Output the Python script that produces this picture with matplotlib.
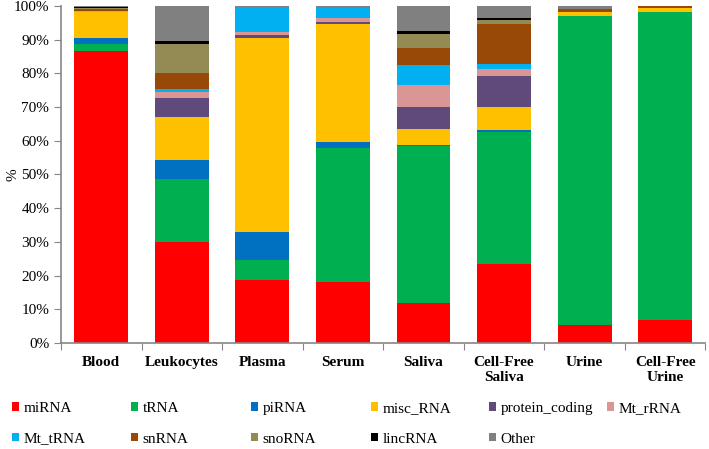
import numpy as np
import matplotlib.pyplot as plt
from matplotlib.patches import Patch

samples = ['Blood', 'Leukocytes', 'Plasma', 'Serum', 'Saliva',
           'Cell-Free\nSaliva', 'Urine', 'Cell-Free\nUrine']
rna_types = ['miRNA', 'tRNA', 'piRNA', 'misc_RNA', 'protein_coding', 'Mt_rRNA',
             'Mt_tRNA', 'snRNA', 'snoRNA', 'lincRNA', 'Other']
colors = ['#FF0000', '#00B050', '#0070C0', '#FFC000', '#604A7B', '#D99694',
          '#00B0F0', '#984807', '#948A54', '#000000', '#808080']

# percentage of reads per RNA type, one list per sample
blood = [86.5, 2.2, 1.9, 7.5, 0.2, 0.1, 0.1, 0.7, 0.3, 0.1, 0.4]
leukocytes = [30.0, 18.5, 5.7, 12.7, 5.7, 1.7, 1.0, 4.8, 8.6, 0.8, 10.5]
plasma = [18.8, 5.9, 8.1, 57.8, 0.8, 0.7, 7.5, 0.0, 0.0, 0.0, 0.4]
serum = [18.2, 39.6, 1.8, 35.1, 0.6, 1.0, 3.0, 0.0, 0.0, 0.0, 0.7]
saliva = [12.0, 46.3, 0.5, 4.6, 6.5, 6.7, 5.9, 5.1, 4.0, 0.8, 7.6]
cf_saliva = [23.5, 39.2, 0.4, 7.0, 9.1, 2.1, 1.5, 11.7, 1.3, 0.7, 3.5]
urine = [5.3, 91.6, 0.0, 1.3, 0.0, 0.0, 0.0, 0.8, 0.2, 0.0, 0.8]
cf_urine = [6.8, 91.5, 0.0, 1.1, 0.0, 0.0, 0.0, 0.6, 0.0, 0.0, 0.0]

data = np.array([blood, leukocytes, plasma, serum, saliva,
                 cf_saliva, urine, cf_urine]).T

plt.rcParams['font.family'] = ['Liberation Serif', 'DejaVu Serif']

fig = plt.figure(figsize=(7.09, 4.49), dpi=100)
ax = fig.add_axes([0.086, 0.236, 0.909, 0.751])

x = np.arange(len(samples))
bottom = np.zeros(len(samples))
for i, name in enumerate(rna_types):
    ax.bar(x, data[i], 0.67, bottom=bottom, color=colors[i], linewidth=0)
    bottom += data[i]

ax.set_xlim(-0.5, len(samples) - 0.5)
ax.set_ylim(0, 100)
ax.set_yticks(np.arange(0, 101, 10))
ax.set_yticklabels([f'{v}%' for v in range(0, 101, 10)], fontsize=11)
ax.set_ylabel('%', fontsize=11)
ax.yaxis.set_label_coords(-0.065, 0.5)

ax.set_xticks(np.arange(-0.5, len(samples), 1))
ax.set_xticklabels([])
ax.set_xticks(x, minor=True)
ax.set_xticklabels(samples, minor=True, fontsize=11, fontweight='bold')
ax.tick_params(axis='x', which='minor', length=0, pad=9)
ax.tick_params(axis='x', which='major', length=5, color='#868686')
ax.tick_params(axis='y', length=5, color='#868686')

for s in ['top', 'right']:
    ax.spines[s].set_visible(False)
for s in ['left', 'bottom']:
    ax.spines[s].set_color('#868686')
    ax.spines[s].set_linewidth(1.2)

# legend: 6 columns, row-major, placed column by column
col_x = [12, 131, 251, 371, 489, 607]
for j, px in enumerate(col_x):
    idx = [k for k in (j, j + 6) if k < len(rna_types)]
    handles = [Patch(facecolor=colors[k], label=rna_types[k]) for k in idx]
    fig.legend(handles=handles, loc='upper left', bbox_to_anchor=(px / 709, 1 - 402 / 449),
               frameon=False, fontsize=11, handlelength=0.45, handleheight=0.45,
               handletextpad=0.3, labelspacing=1.15, borderpad=0, borderaxespad=0)

fig.savefig('out.png', dpi=100)
